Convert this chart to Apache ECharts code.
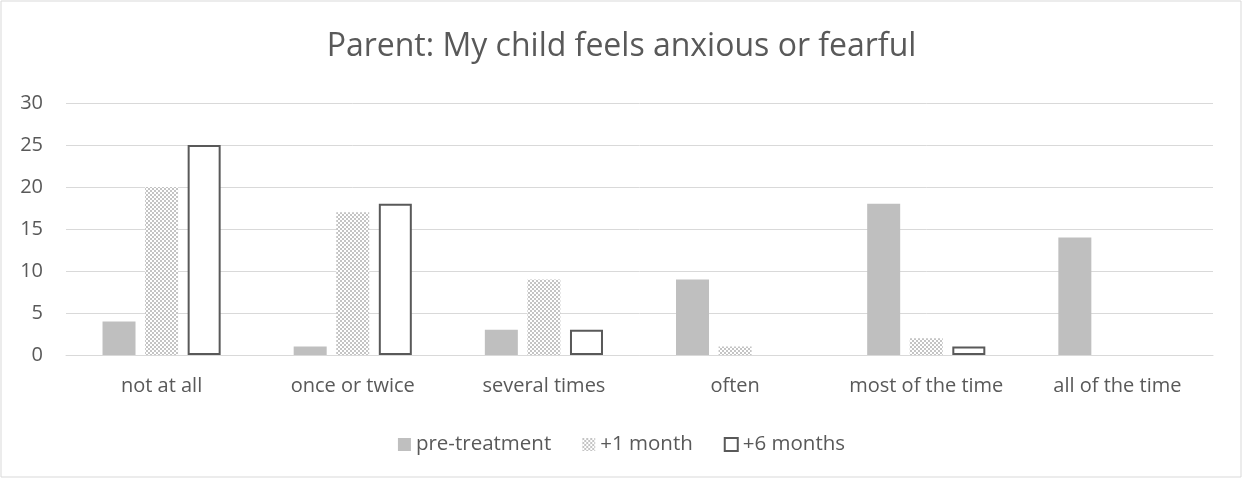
<!DOCTYPE html>
<html>
<head>
<meta charset="utf-8">
<script src="https://cdn.jsdelivr.net/npm/echarts@6/dist/echarts.min.js"></script>
<style>
  html, body { margin: 0; padding: 0; background: #fff; }
  #chart { width: 1243px; height: 479px; }
</style>
</head>
<body>
<div id="chart"></div>
<script>
var categories = ['not at all', 'once or twice', 'several times', 'often', 'most of the time', 'all of the time']
var preTreatment = [4, 1, 3, 9, 18, 14]
var plusOneMonth = [20, 17, 9, 1, 2, 0]
var plusSixMonths = [25, 18, 3, 0, 1, 0]
var yTicks = [0, 5, 10, 15, 20, 25, 30]

// small checker pattern for the +1 month series
function checker() {
  var c = document.createElement('canvas')
  c.width = 4
  c.height = 4
  var ctx = c.getContext('2d')
  ctx.fillStyle = '#ffffff'
  ctx.fillRect(0, 0, 4, 4)
  ctx.fillStyle = '#c4c4c4'
  ctx.fillRect(0, 0, 2, 2)
  ctx.fillRect(2, 2, 2, 2)
  return c
}

// outlined bars: no outline where the value is zero
function outlined(values) {
  return values.map(function (v) {
    return v === 0 ? { value: v, itemStyle: { borderWidth: 0 } } : v
  })
}

var font = '"Open Sans", "Liberation Sans", sans-serif'
var chart = echarts.init(document.getElementById('chart'))
chart.setOption({
  animation: false,
  backgroundColor: '#ffffff',
  textStyle: { fontFamily: font },
  title: {
    text: 'Parent: My child feels anxious or fearful',
    left: 'center',
    top: 26,
    textStyle: { fontSize: 32, fontWeight: 'normal', color: '#595959', fontFamily: font }
  },
  graphic: [{
    type: 'rect',
    shape: { x: 1, y: 1, width: 1240, height: 476 },
    style: { fill: 'none', stroke: '#d9d9d9', lineWidth: 1 },
    silent: true
  }],
  legend: {
    top: 429,
    left: 'center',
    icon: 'rect',
    itemWidth: 13,
    itemHeight: 13,
    itemGap: 31,
    textStyle: { fontSize: 20.5, color: '#595959', fontFamily: font },
    data: ['pre-treatment', '+1 month', '+6 months']
  },
  grid: {
    left: 66,
    right: 30,
    top: 103,
    bottom: 124
  },
  xAxis: {
    type: 'category',
    data: categories,
    axisLine: { lineStyle: { color: '#d9d9d9' } },
    axisTick: { show: false },
    axisLabel: { fontSize: 20, color: '#595959', margin: 21, interval: 0, hideOverlap: false }
  },
  yAxis: {
    type: 'value',
    min: 0,
    max: 30,
    interval: 5,
    axisLine: { show: false },
    axisTick: { show: false },
    splitLine: { lineStyle: { color: '#d9d9d9' } },
    axisLabel: {
      fontSize: 20,
      color: '#595959',
      margin: 23,
      formatter: function (v) { return yTicks.indexOf(v) >= 0 ? v : '' }
    }
  },
  series: [{
    name: 'pre-treatment',
    type: 'bar',
    data: preTreatment,
    barWidth: 33,
    barGap: '29%',
    itemStyle: { color: '#bfbfbf' }
  }, {
    name: '+1 month',
    type: 'bar',
    data: plusOneMonth,
    barWidth: 33,
    barGap: '29%',
    itemStyle: { color: { image: checker(), repeat: 'repeat' } }
  }, {
    name: '+6 months',
    type: 'bar',
    data: outlined(plusSixMonths),
    barWidth: 33,
    barGap: '29%',
    itemStyle: { color: '#ffffff', borderColor: '#595959', borderWidth: 2 }
  }]
})
</script>
</body>
</html>
